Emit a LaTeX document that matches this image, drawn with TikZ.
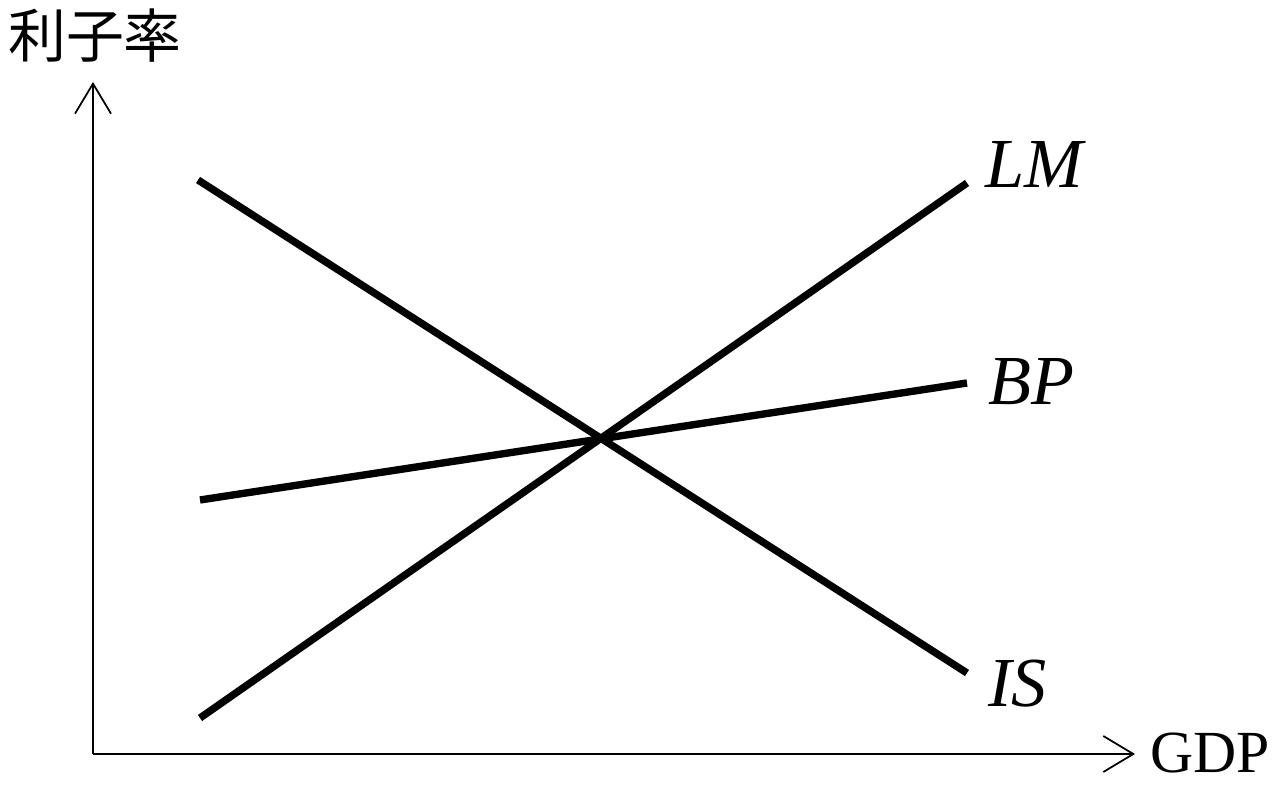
\documentclass[tikz,border=0pt]{standalone}
\usepackage{fontspec}
\setmainfont{Liberation Serif}
\newfontfamily\cjk{Noto Sans CJK JP}
\usetikzlibrary{arrows.meta}
\tikzset{
curve/.style={line width=4.2pt},
axis/.style={line width=1pt,-{Straight Barb[length=6mm,width=7.2mm,line width=1pt]}},
curvelabel/.style={anchor=base west,inner sep=0pt,font=\fontsize{40}{42}\selectfont\itshape}
}

\begin{document}
\begin{tikzpicture}[x=0.02cm,y=0.02cm]
\useasboundingbox (0,0) rectangle (1280,786);
\coordinate (O) at (93,32);
\coordinate (ytip) at (93,704);
\coordinate (xtip) at (1135,32);
\coordinate (IS1) at (198,606);
\coordinate (IS2) at (967,113);
\coordinate (LM1) at (200,68);
\coordinate (LM2) at (967,603);
\coordinate (BP1) at (200,286);
\coordinate (BP2) at (967,403);
\draw[axis] (O) -- (ytip);
\draw[axis] (O) -- (xtip);
\draw[curve] (IS1) -- (IS2);
\draw[curve] (LM1) -- (LM2);
\draw[curve] (BP1) -- (BP2);
\node[curvelabel] (ISlabel) at (988,79) {IS};
\node[curvelabel] (LMlabel) at (985,598) {LM};
\node[curvelabel] (BPlabel) at (988,381) {BP};
\node[anchor=base west,inner sep=0pt,font=\fontsize{34}{36}\selectfont] (gdp) at (1150,13) {GDP};
\node[inner sep=0pt,font=\cjk\fontsize{33}{35}\selectfont] (rate) at (95,750) {利子率};
\end{tikzpicture}
\end{document}
